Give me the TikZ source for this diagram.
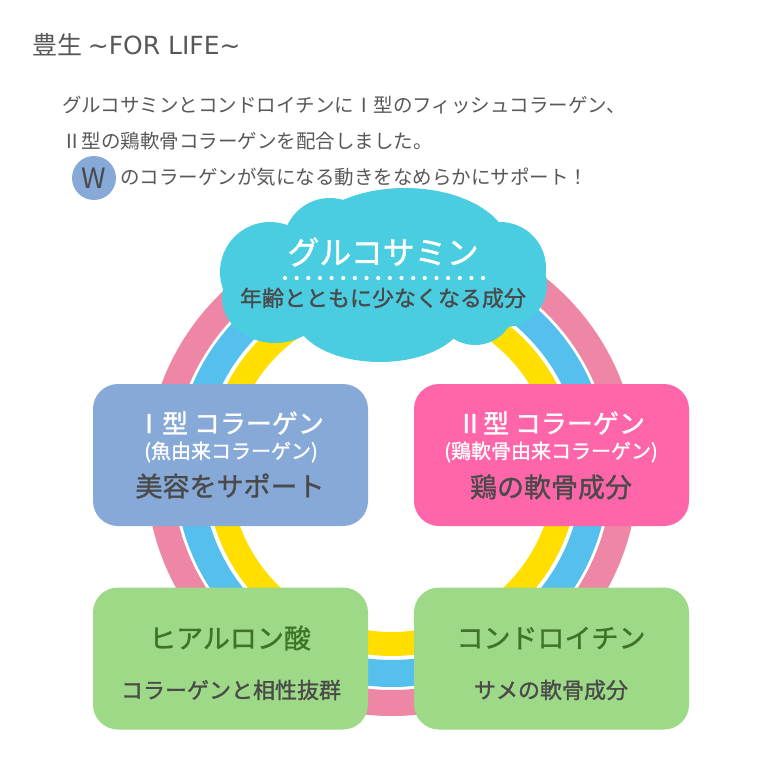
\documentclass[tikz,border=0pt]{standalone}
\usepackage{fontspec}
\setmainfont{Noto Sans CJK JP}
\newfontfamily\latinfont{DejaVu Sans}
\newfontfamily\jpmed[FakeBold=1.2]{Noto Sans CJK JP}
\definecolor{ringpink}{RGB}{237,135,165}
\definecolor{ringblue}{RGB}{85,192,238}
\definecolor{ringyellow}{RGB}{255,222,0}
\definecolor{cloudcyan}{RGB}{74,205,224}
\definecolor{boxblue}{RGB}{135,169,216}
\definecolor{boxpink}{RGB}{255,102,170}
\definecolor{boxgreen}{RGB}{157,217,135}
\definecolor{textgreen}{RGB}{62,115,40}
\definecolor{textgray}{RGB}{74,74,74}
\definecolor{bodygray}{RGB}{88,88,88}
\newcommand{\fsz}[1]{\fontsize{#1}{#1}\selectfont}
\begin{document}
\begin{tikzpicture}[x=1pt,y=-1pt,
    panel/.style={rounded corners=25pt,minimum width=275pt,minimum height=142pt,inner sep=0pt},
    word/.style={inner sep=0pt,text=textgray}]
        \useasboundingbox (0,0) rectangle (770,770);
        \fill[white] (0,0) rectangle (770,770);

        \draw[ringpink,line width=26pt] (392,470) circle (233pt);
        \draw[ringblue,line width=27pt] (392,470) circle (203.5pt);
        \draw[ringyellow,line width=24pt] (392,470) circle (174pt);

        \fill[cloudcyan] (405,250) ellipse [x radius=105pt,y radius=62pt];
        \fill[cloudcyan] (330,245) circle (47pt);
        \fill[cloudcyan] (270,272) circle (50pt);
        \fill[cloudcyan] (275,298) ellipse [x radius=53pt,y radius=45pt];
        \fill[cloudcyan] (380,315) ellipse [x radius=85pt,y radius=47pt];
        \fill[cloudcyan] (475,305) circle (40pt);
        \fill[cloudcyan] (505,285) circle (42pt);
        \fill[cloudcyan] (500,268) circle (46pt);
        \fill[cloudcyan] (260,250) rectangle (520,320);
        \node[word,text=white,font=\jpmed\fsz{32}] (glucosamine) at (383,252) {グルコサミン};
        \foreach \i in {0,...,17}
            \fill[white] (285+\i*11.65,278) circle (2.1pt);
        \node[word,font=\jpmed\fsz{22}] (glucosub) at (383,298) {年齢とともに少なくなる成分};

        \node[panel,fill=boxblue] (type1box) at (230.5,455) {};
        \node[word,text=white,font=\jpmed\fsz{26}] (type1title) at (230,423) {Ⅰ型 コラーゲン};
        \node[word,text=white,font=\jpmed\fsz{20}] (type1src) at (231,452) {(魚由来コラーゲン)};
        \node[word,font=\jpmed\fsz{27}] (type1sub) at (230,486) {美容をサポート};

        \node[panel,fill=boxpink] (type2box) at (551.5,455) {};
        \node[word,text=white,font=\jpmed\fsz{26}] (type2title) at (551,423) {Ⅱ型 コラーゲン};
        \node[word,text=white,font=\jpmed\fsz{20}] (type2src) at (551,452) {(鶏軟骨由来コラーゲン)};
        \node[word,font=\jpmed\fsz{27}] (type2sub) at (551,487) {鶏の軟骨成分};

        \node[panel,fill=boxgreen] (hyalbox) at (230.5,658.5) {};
        \node[word,text=textgreen,font=\jpmed\fsz{27}] (hyaltitle) at (230,638) {ヒアルロン酸};
        \node[word,font=\jpmed\fsz{22}] (hyalsub) at (231,690) {コラーゲンと相性抜群};

        \node[panel,fill=boxgreen] (chonbox) at (551.5,658.5) {};
        \node[word,text=textgreen,font=\jpmed\fsz{27}] (chontitle) at (551,638) {コンドロイチン};
        \node[word,font=\jpmed\fsz{22}] (chonsub) at (551,690) {サメの軟骨成分};

        \node[word,text=bodygray,anchor=west,font=\fsz{25}] (title) at (32,45) {豊生 {\latinfont\textasciitilde FOR LIFE\textasciitilde}};
        \node[word,text=bodygray,anchor=west,font=\fsz{19.5}] (intro1) at (62,105) {グルコサミンとコンドロイチンにⅠ型のフィッシュコラーゲン、};
        \node[word,text=bodygray,anchor=west,font=\fsz{19.5}] (intro2) at (62,141) {Ⅱ型の鶏軟骨コラーゲンを配合しました。};
        \node[circle,fill=boxblue,minimum size=44pt,inner sep=0pt,text=textgray,font=\fsz{28}] (wmark) at (94,178) {W};
        \node[word,text=bodygray,anchor=west,font=\fsz{19.5}] (intro3) at (120,177) {のコラーゲンが気になる動きをなめらかにサポート！};
\end{tikzpicture}
\end{document}
